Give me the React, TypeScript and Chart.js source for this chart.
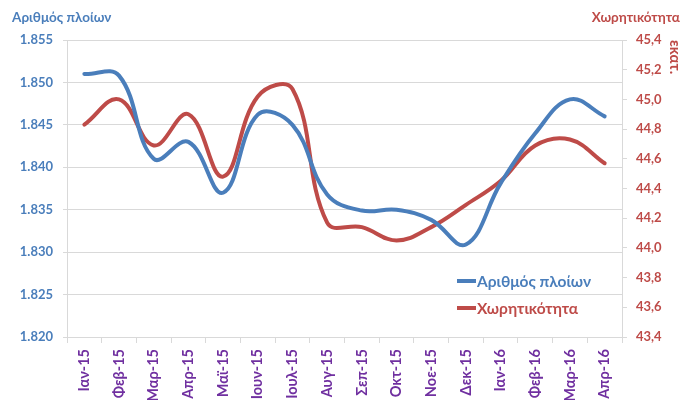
import React, { useEffect, useRef } from "react";
import { Chart, registerables } from "chart.js";

Chart.register(...registerables);

const categories = [
  "Ιαν-15", "Φεβ-15", "Μαρ-15", "Απρ-15", "Μαϊ-15", "Ιουν-15", "Ιουλ-15", "Αυγ-15",
  "Σεπ-15", "Οκτ-15", "Νοε-15", "Δεκ-15", "Ιαν-16", "Φεβ-16", "Μαρ-16", "Απρ-16",
];

const shipCount = [
  1.851, 1.8508, 1.841, 1.843, 1.837, 1.8462, 1.845, 1.8368,
  1.8349, 1.835, 1.8338, 1.8309, 1.8381, 1.844, 1.848, 1.846,
];

const tonnage = [
  44.83, 45.0, 44.69, 44.9, 44.48, 45.02, 45.07, 44.17,
  44.14, 44.05, 44.14, 44.29, 44.45, 44.69, 44.73, 44.57,
];

const seriesNames = ["Αριθμός πλοίων", "Χωρητικότητα"];
const leftTitle = "Αριθμός πλοίων";
const rightTitle = "Χωρητικότητα";
const rightUnit = "εκατ.";

const BLUE = "#4A7EBB";
const RED = "#BE4B48";
const PURPLE = "#7030A0";
const GRID = "#D9D9D9";
const FONT = "Lato, 'Open Sans', sans-serif";

export default function App() {
  const ref = useRef<HTMLCanvasElement | null>(null);

  useEffect(() => {
    if (!ref.current) return;
    const chart = new Chart(ref.current, {
      type: "line",
      data: {
        labels: categories,
        datasets: [
          {
            label: seriesNames[0],
            data: shipCount,
            borderColor: BLUE,
            backgroundColor: BLUE,
            borderWidth: 4,
            pointRadius: 0,
            tension: 0.4,
            yAxisID: "y",
            borderCapStyle: "round",
          },
          {
            label: seriesNames[1],
            data: tonnage,
            borderColor: RED,
            backgroundColor: RED,
            borderWidth: 4,
            pointRadius: 0,
            tension: 0.4,
            yAxisID: "y1",
            borderCapStyle: "round",
          },
        ],
      },
      options: {
        responsive: false,
        animation: false,
        layout: { padding: { top: 40, left: 0, right: 0, bottom: 0 } },
        plugins: {
          legend: { display: false },
          tooltip: { enabled: false },
          title: { display: false },
        },
        scales: {
          x: {
            type: "category",
            offset: true,
            grid: {
              offset: true,
              drawOnChartArea: false,
              drawTicks: true,
              tickLength: 6,
              color: GRID,
            },
            border: { color: GRID, width: 1 },
            ticks: {
              minRotation: 90,
              maxRotation: 90,
              autoSkip: false,
              padding: 6,
              color: PURPLE,
              font: { family: FONT, size: 14.5, weight: "bold" },
            },
            afterFit: (s: any) => {
              s.height = 123;
            },
          },
          y: {
            position: "left",
            min: 1.82,
            max: 1.855,
            grid: { color: GRID, tickLength: 4, drawTicks: true },
            border: { color: GRID, width: 1 },
            ticks: {
              stepSize: 0.005,
              padding: 10,
              color: BLUE,
              font: { family: FONT, size: 13, weight: "bold" },
              callback: (v: any) => (Math.round(Number(v) * 1000) / 1000).toFixed(3),
            },
            afterFit: (s: any) => {
              s.width = 67;
            },
          },
          y1: {
            position: "right",
            min: 43.4,
            max: 45.4,
            grid: { drawOnChartArea: false, color: GRID, tickLength: 5, drawTicks: true },
            border: { color: GRID, width: 1 },
            ticks: {
              stepSize: 0.2,
              padding: 9,
              color: RED,
              font: { family: FONT, size: 13, weight: "bold" },
              callback: (v: any) => (Math.round(Number(v) * 10) / 10).toFixed(1).replace(".", ","),
            },
            afterFit: (s: any) => {
              s.width = 60;
            },
          },
        },
      },
    });
    return () => chart.destroy();
  }, []);

  const legendRow = (color: string, text: string, top: number) => (
    <div
      style={{
        position: "absolute",
        left: 457,
        top: top - 10,
        height: 20,
        display: "flex",
        alignItems: "center",
        fontFamily: FONT,
        fontWeight: "bold",
        fontSize: 15.5,
        color,
        whiteSpace: "nowrap",
      }}
    >
      <span style={{ display: "inline-block", width: 19, height: 4, background: color, marginRight: 1 }} />
      <span>{text}</span>
    </div>
  );

  return (
    <div
      style={{
        position: "fixed",
        left: 0,
        top: 0,
        width: 682,
        height: 400,
        overflow: "hidden",
        background: "#fff",
      }}
    >
      <canvas ref={ref} width={682} height={460} style={{ width: 682, height: 460, display: "block" }} />
      <div
        style={{
          position: "absolute",
          left: 12,
          top: 9,
          fontFamily: FONT,
          fontWeight: "bold",
          fontSize: 13.5,
          color: BLUE,
          whiteSpace: "nowrap",
        }}
      >
        {leftTitle}
      </div>
      <div
        style={{
          position: "absolute",
          right: 2,
          top: 9,
          fontFamily: FONT,
          fontWeight: "bold",
          fontSize: 13.5,
          color: RED,
          whiteSpace: "nowrap",
        }}
      >
        {rightTitle}
      </div>
      <div
        style={{
          position: "absolute",
          left: 685,
          top: 40,
          fontFamily: FONT,
          fontWeight: "bold",
          fontSize: 15,
          lineHeight: "18px",
          color: RED,
          whiteSpace: "nowrap",
          transformOrigin: "0 0",
          transform: "rotate(90deg)",
        }}
      >
        {rightUnit}
      </div>
      {legendRow(BLUE, seriesNames[0], 281)}
      {legendRow(RED, seriesNames[1], 308)}
    </div>
  );
}
